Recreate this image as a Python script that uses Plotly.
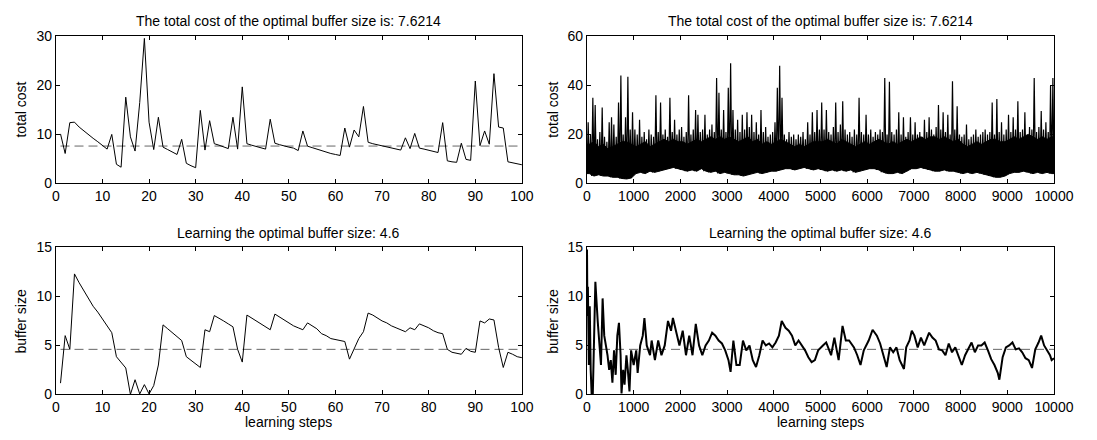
import plotly.graph_objects as go

# ---------------- data ----------------
steps_short = list(range(1, 101))
cost_short = [10.1, 6.1, 12.4, 12.5, 11.5, 10.7, 10.0, 9.2, 8.5, 7.8,
              7.0, 10.0, 3.9, 3.3, 17.6, 9.5, 6.6, 16.5, 29.6, 12.5,
              6.9, 13.5, 7.4, 6.9, 6.4, 5.9, 9.0, 4.1, 3.6, 3.2,
              14.9, 6.8, 12.8, 8.1, 7.8, 7.5, 7.1, 13.5, 7.0, 19.7,
              8.1, 7.8, 7.5, 7.2, 7.0, 13.1, 8.2, 7.9, 7.6, 7.4,
              7.2, 6.7, 10.7, 7.6, 7.3, 7.0, 6.6, 6.3, 6.1, 5.9,
              5.7, 11.3, 7.4, 10.9, 9.5, 15.7, 8.4, 8.1, 7.9, 7.7,
              7.5, 7.3, 7.1, 6.8, 9.3, 7.1, 10.2, 7.2, 7.0, 6.8,
              6.6, 6.3, 12.4, 4.6, 4.4, 4.3, 8.2, 4.9, 4.7, 20.9,
              7.7, 10.7, 8.0, 22.4, 11.5, 11.3, 4.4, 4.2, 4.0, 3.8]
buffer_short = [1.15, 6.0, 4.6, 12.3, 11.4, 10.6, 9.8, 9.0, 8.4, 7.7,
                7.0, 6.3, 3.85, 3.3, 2.7, 0.0, 1.5, 0.05, 1.0, 0.05,
                0.9, 3.0, 7.1, 6.7, 6.3, 5.9, 5.5, 3.85, 3.5, 3.1,
                2.75, 6.6, 6.4, 8.05, 7.8, 7.5, 7.2, 6.9, 4.6, 3.3,
                8.1, 7.8, 7.5, 7.2, 6.9, 6.6, 8.2, 7.9, 7.6, 7.3,
                7.0, 6.8, 6.6, 7.3, 7.0, 6.7, 6.2, 6.0, 5.7, 5.6,
                5.5, 5.4, 3.6, 4.6, 5.7, 6.4, 8.3, 8.1, 7.8, 7.5,
                7.3, 7.0, 6.8, 6.6, 6.4, 6.8, 6.6, 7.2, 7.0, 6.8,
                6.5, 6.3, 6.2, 4.6, 4.3, 4.2, 4.1, 4.7, 4.4, 4.3,
                7.5, 7.3, 7.7, 7.6, 4.8, 2.75, 4.3, 4.1, 3.85, 3.75]

# long run: per-50-step peak of total cost (200 bins)
cost_peak = [25, 20, 35, 32, 18, 21, 31, 19, 17, 25,
             27, 24, 19, 33, 44, 20, 27, 43.5, 22, 29,
             22, 20, 26, 19, 21, 18, 22, 20, 19, 36,
             21, 33, 20, 22, 19, 35, 21, 26, 20, 22,
             23, 19, 21, 36, 20, 22, 30, 28, 21, 22,
             28, 20, 22, 24, 21, 43, 37, 22, 30, 21,
             39, 49, 30, 22, 26, 21, 28, 22, 29, 23,
             28, 21, 25, 20, 30, 21, 23, 19, 20, 21,
             25, 39, 48, 35, 20, 18, 21, 19, 20, 18,
             20, 19, 21, 18, 25, 20, 29, 21, 30, 22,
             33, 22, 30, 21, 20, 23, 33, 21, 24, 33.5,
             22, 20, 21, 19, 22, 20, 35, 21, 20, 28,
             20, 22, 19, 21, 20, 22, 21, 43, 20, 41.5,
             21, 20, 22, 29, 20, 27, 19, 21, 27, 20,
             25, 20, 21, 19, 26, 21, 27, 22, 20, 23,
             32, 22, 29, 21, 28, 20, 41.7, 22, 31.5, 20,
             19, 20, 24, 18, 19, 20, 22, 19, 20, 21,
             22, 20, 21, 33, 20, 34.5, 21, 25, 20, 22,
             28, 21, 27, 22, 33.5, 21, 22, 29, 20, 23,
             22, 43, 21, 23, 29.6, 22, 25, 21, 40, 43]
# per-100-step lower edge and top of the solid core of total cost
cost_floor = [4, 3, 3.5, 3, 3, 2.5, 2.5, 2, 1.8, 2.2,
              4, 4.5, 4, 5, 4.5, 5, 5.5, 6, 6.5, 6,
              5.5, 5, 5.5, 5, 6, 5, 4.5, 5, 4, 4.5,
              4, 3.5, 3.5, 3, 3.5, 4, 4.5, 4, 4.5, 5,
              5, 5.5, 6, 6, 5.5, 6, 6.5, 6, 5.5, 6,
              5.5, 5, 5.5, 5, 5.5, 5, 5.5, 4.5, 5, 5.5,
              6, 6, 5.5, 4.5, 4, 4, 4.5, 4, 5, 6,
              6, 6.5, 6, 5.5, 5, 5, 5.5, 5, 5, 4.5,
              4, 4.5, 4, 4.5, 4, 3.5, 3, 2.5, 2.5, 3,
              4, 4.5, 4.5, 5, 4.5, 4, 4.5, 4, 4.5, 4]
cost_core = [16, 17, 15, 16, 14, 15, 16, 17, 17, 16,
             15, 16, 17, 15, 16, 17, 18, 17, 18, 17,
             17, 16, 17, 18, 17, 18, 19, 18, 19, 18,
             19, 18, 17, 18, 19, 17, 18, 16, 17, 16,
             17, 18, 17, 16, 15, 16, 15, 16, 17, 17,
             17, 18, 17, 16, 18, 17, 16, 15, 16, 17,
             16, 17, 18, 17, 16, 17, 16, 17, 18, 17,
             18, 19, 18, 19, 19, 18, 19, 18, 17, 18,
             16, 15, 16, 17, 16, 17, 18, 18, 17, 17,
             18, 19, 18, 19, 20, 19, 18, 19, 18, 19]

buf_long_steps = [1, 10, 20, 40, 60, 80, 100, 125, 150, 180, 230, 265, 300, 335, 370, 405, 440, 475,
                  510, 545, 580, 615, 650, 685, 720, 740, 775, 805, 845, 875, 910, 945, 1000,
                  1055, 1085, 1140, 1195, 1230, 1280, 1350, 1385, 1455, 1525, 1595, 1665, 1735,
                  1800, 1840, 1910, 1980, 2050, 2120, 2190, 2260, 2330, 2400, 2470, 2540, 2610,
                  2680, 2750, 2820, 2890, 2960, 3030, 3075, 3135, 3200, 3270, 3340, 3410, 3480,
                  3550, 3620, 3690, 3760, 3830, 3900, 3970, 4040, 4110, 4170, 4250, 4320, 4390,
                  4460, 4530, 4600, 4670, 4740, 4810, 4880, 4950, 5052, 5122, 5227, 5297, 5388,
                  5472, 5542, 5612, 5717, 5787, 5857, 5927, 6032, 6116, 6207, 6277, 6347, 6417,
                  6487, 6557, 6627, 6696, 6787, 6836, 6906, 6955, 7011, 7081, 7151, 7221, 7326,
                  7396, 7466, 7536, 7606, 7676, 7746, 7816, 7886, 7956, 8026, 8096, 8166, 8235,
                  8305, 8375, 8445, 8515, 8585, 8655, 8725, 8795, 8830, 8900, 8970, 9040, 9110,
                  9180, 9250, 9319, 9389, 9459, 9529, 9599, 9669, 9725, 9788, 9844, 9914, 9949,
                  10000]
buf_long = [14.8, 8, 11, 3, 9, 2.5, 0, 0, 6, 11.5, 7.5, 5, 3, 9.8, 6, 5, 4, 2.5,
            3.5, 1.2, 4.5, 2, 6, 7.3, 4, 0.1, 2.5, 1, 4, 2.5, 0.3, 4.5, 3,
            4.5, 2.2, 5, 6, 7.8, 5, 4, 5.5, 3.5, 5.5, 4, 5, 7.5,
            6.5, 7.8, 6.5, 5, 6.5, 4, 6, 4, 7.2, 5, 4, 5, 5.5,
            6.3, 6, 5.5, 5.2, 4.5, 3.5, 2.3, 5.5, 3, 3, 5.5, 4.5, 5,
            3.5, 2.8, 4, 5.5, 5, 5.2, 4.8, 5.3, 6, 7.5, 6.8, 6.5, 6,
            5, 5.5, 5, 4.5, 3.8, 3.3, 3.5, 4.5, 5, 5.3, 4, 5.8, 3.5,
            7, 5.5, 5.5, 4.8, 4, 3, 4.5, 5.5, 6.6, 6, 5.2, 4, 2.8,
            4.8, 4.3, 4.8, 3.5, 2.6, 4.8, 5.5, 6.5, 6, 4.8, 5.8, 5, 6.3,
            5.8, 5.5, 4.6, 4.5, 4, 5.2, 4.3, 4.8, 3.8, 3, 4, 4.6, 5.3,
            4.3, 5, 5, 5.3, 4.5, 3.6, 3, 2.2, 1.5, 3.8, 4.8, 5, 5.3,
            4.6, 4.7, 4.3, 3.7, 3.5, 2.7, 4.6, 5.3, 6, 5, 4.5, 4, 3.5,
            3.7]

optimal_cost = 7.6214
optimal_buffer = 4.6
title_cost = "The total cost of the optimal buffer size is: 7.6214"
title_buffer = "Learning the optimal buffer size: 4.6"
short_ticks = list(range(0, 101, 10))
long_ticks = list(range(0, 10001, 1000))

# ---------------- figure ----------------
W, H = 1097, 440
FONT = "Liberation Sans, Arial, Helvetica, sans-serif"
fig = go.Figure()

line = dict(color="black", width=1)
dash = dict(color="#666666", width=1, dash="9px,5px")


def add_line(x, y, xa, ya, ln):
    fig.add_trace(go.Scatter(x=x, y=y, xaxis=xa, yaxis=ya, mode="lines",
                             line=ln, showlegend=False, hoverinfo="skip"))


# reference (optimum) lines first, underneath the data
add_line([1, 100], [optimal_cost] * 2, "x", "y", dash)
add_line([1, 10000], [optimal_cost] * 2, "x2", "y2", dash)
add_line([1, 100], [optimal_buffer] * 2, "x3", "y3", dash)
add_line([1, 10000], [optimal_buffer] * 2, "x4", "y4", dash)

# solid core band of the long-run cost (top edge forward, floor backward)
band_x = [k * 100 + 50 for k in range(len(cost_core))]
fig.add_trace(go.Scatter(x=[1] + band_x + [10000] + [10000] + band_x[::-1] + [1],
                         y=[cost_core[0]] + cost_core + [cost_core[-1]] +
                           [cost_floor[-1]] + cost_floor[::-1] + [cost_floor[0]],
                         xaxis="x2", yaxis="y2", mode="lines", fill="toself",
                         fillcolor="black", line=dict(color="black", width=1),
                         showlegend=False, hoverinfo="skip"))

# zigzag spikes for the long-run cost
zx, zy = [], []
for k, pk in enumerate(cost_peak):
    zx += [k * 50 + 1, k * 50 + 26]
    zy += [cost_floor[k // 2], pk]
zx.append(10000)
zy.append(cost_floor[-1])

add_line(steps_short, cost_short, "x", "y", line)
add_line(zx, zy, "x2", "y2", dict(color="black", width=1.2))
add_line(steps_short, buffer_short, "x3", "y3", line)
add_line(buf_long_steps, buf_long, "x4", "y4", dict(color="black", width=2))


def px_x(p):
    return p / W


def px_y(p):
    return 1 - p / H


L1, R1 = 53, 529.5
L2, R2 = 596, 1073.5
T1, B1 = 29.5, 182
T2, B2 = 248.5, 401

common = dict(showgrid=False, zeroline=False, showline=True, linecolor="black",
              linewidth=1, mirror="ticks", ticks="inside", ticklen=4,
              tickcolor="black", tickwidth=1,
              tickfont=dict(family=FONT, size=14, color="black"))

fig.update_layout(
    width=W, height=H, margin=dict(l=0, r=0, t=0, b=0),
    paper_bgcolor="white", plot_bgcolor="white",
    xaxis=dict(domain=[px_x(L1), px_x(R1)], range=[0, 100], tickvals=short_ticks,
               ticktext=[str(t) for t in short_ticks], anchor="y", **common),
    yaxis=dict(domain=[px_y(B1), px_y(T1)], range=[0, 30], tickvals=[0, 10, 20, 30],
               anchor="x", **common),
    xaxis2=dict(domain=[px_x(L2), px_x(R2)], range=[0, 10000], tickvals=long_ticks,
                ticktext=[str(t) for t in long_ticks], anchor="y2", **common),
    yaxis2=dict(domain=[px_y(B1), px_y(T1)], range=[0, 60], tickvals=[0, 20, 40, 60],
                anchor="x2", **common),
    xaxis3=dict(domain=[px_x(L1), px_x(R1)], range=[0, 100], tickvals=short_ticks,
                ticktext=[str(t) for t in short_ticks], anchor="y3", **common),
    yaxis3=dict(domain=[px_y(B2), px_y(T2)], range=[0, 15], tickvals=[0, 5, 10, 15],
                anchor="x3", **common),
    xaxis4=dict(domain=[px_x(L2), px_x(R2)], range=[0, 10000], tickvals=long_ticks,
                ticktext=[str(t) for t in long_ticks], anchor="y4", **common),
    yaxis4=dict(domain=[px_y(B2), px_y(T2)], range=[0, 15], tickvals=[0, 5, 10, 15],
                anchor="x4", **common),
)


def ann(text, x, y, size=14, angle=0):
    fig.add_annotation(text=text, x=px_x(x), y=px_y(y), xref="paper", yref="paper",
                       showarrow=False, textangle=angle, xanchor="center", yanchor="middle",
                       font=dict(family=FONT, size=size, color="black"))


ann(title_cost, (L1 + R1) / 2, 14)
ann(title_cost, (L2 + R2) / 2, 14)
ann(title_buffer, (L1 + R1) / 2, 233)
ann(title_buffer, (L2 + R2) / 2, 233)
ann("learning steps", (L1 + R1) / 2, 430)
ann("learning steps", (L2 + R2) / 2, 430)
ann("total cost", 17, (T1 + B1) / 2, angle=-90)
ann("total cost", 561, (T1 + B1) / 2, angle=-90)
ann("buffer size", 17, (T2 + B2) / 2, angle=-90)
ann("buffer size", 561, (T2 + B2) / 2, angle=-90)

fig.write_html("out.html")
